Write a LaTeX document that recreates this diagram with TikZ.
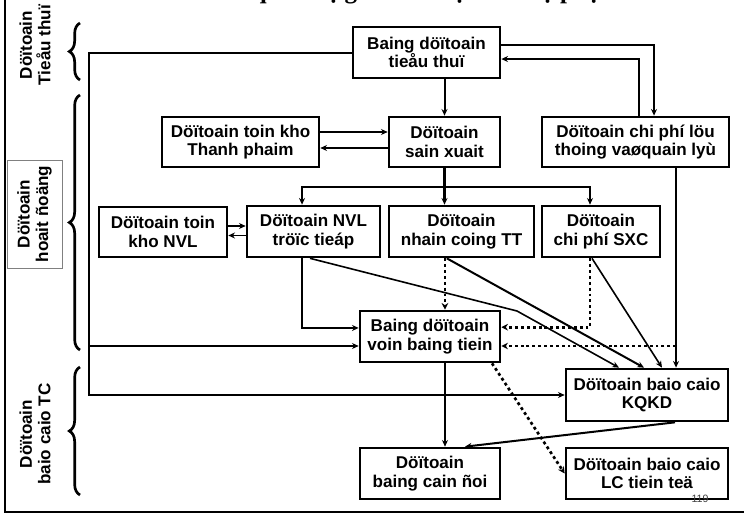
\documentclass[tikz,border=0pt]{standalone}
\usepackage{fontspec}
\setmainfont{Liberation Sans}
\newfontfamily\titlefont{Liberation Serif}
\usetikzlibrary{arrows.meta,decorations.pathreplacing}
\tikzstyle{box} = [draw, line width=2pt, align=center, inner sep=0pt, font=\bfseries\fontsize{12.8}{14}\selectfont]
\tikzstyle{line} = [line width=1.5pt, -{Stealth[length=5pt,width=4.5pt]}]
\tikzstyle{dotline} = [line width=2.2pt, dash pattern=on 2.2pt off 2.2pt, -{Stealth[length=5pt,width=5pt]}]
\tikzstyle{side} = [rotate=90, align=center, font=\bfseries\fontsize{12.8}{14}\selectfont]
\tikzstyle{brc} = [decorate, decoration={brace, amplitude=8pt}, line width=2pt]

\begin{document}
\begin{tikzpicture}[x=0.75pt, y=-0.75pt]
\useasboundingbox (0,0) rectangle (744,521);
\clip (0,0) rectangle (744,521);

\node[anchor=base, font=\titlefont\bfseries\fontsize{18.75}{20}\selectfont] (title) at (377,-2) {Sơ đồ mối quan hệ giữa các dự toán bộ phận};
\draw[line width=1.5pt] (5,0) -- (5,512) -- (744,512);

\node[box, minimum width=110.25pt, minimum height=38.25pt] (tt) at (426.5,52.5) {Baing döïtoain\\tieåu thuï};
\node[box, minimum width=117.75pt, minimum height=37.5pt] (tp) at (240.5,142) {Döïtoain toin kho\\Thanh phaim};
\node[box, minimum width=83.25pt, minimum height=37.5pt] (sx) at (444.5,142) {Döïtoain\\sain xuait};
\node[box, minimum width=140.25pt, minimum height=37.5pt] (cp) at (635.5,142) {Döïtoain chi phí löu\\thoing vaøquain lyù};
\node[box, minimum width=96pt, minimum height=37.5pt] (tk) at (163,232) {Döïtoain toin\\kho NVL};
\node[box, minimum width=99.75pt, minimum height=38.25pt] (nvl) at (313.5,231.5) {Döïtoain NVL\\tröïc tieáp};
\node[box, minimum width=108.75pt, minimum height=38.25pt] (nc) at (461.5,231.5) {Döïtoain\\nhain coing TT};
\node[box, minimum width=88.5pt, minimum height=38.25pt] (sxc) at (601,231.5) {Döïtoain\\chi phí SXC};
\node[box, minimum width=105pt, minimum height=38.25pt] (von) at (430,336.5) {Baing döïtoain\\voin baing tiein};
\node[box, minimum width=121.5pt, minimum height=39pt] (kq) at (647,395) {Döïtoain baio caio\\KQKD};
\node[box, minimum width=105pt, minimum height=38.25pt] (cd) at (430,473.5) {Döïtoain\\baing cain ñoi};
\node[box, minimum width=121.5pt, minimum height=38.25pt] (lc) at (647,473.5) {Döïtoain baio caio\\LC tiein teä};

\node[side] (ltt) at (35,45) {Döïtoain\\Tieåu thuï};
\node[side, draw=gray, line width=0.6pt, minimum width=81pt, minimum height=41.25pt, inner sep=0pt] (lhd) at (34.5,214) {Döïtoain\\hoait ñoäng};
\node[side] (lbc) at (35,434) {Döïtoain\\baio caio TC};

\draw[brc] (80,80) -- (80,23);
\draw[brc] (80,350) -- (80,95);
\draw[brc] (80,495) -- (80,367);

\coordinate (lft) at (89,395);
\coordinate (lv) at (89,346);
\draw[line] (tt.west) -| (lft) -- (kq.west);
\draw[line] (lv) -- (lv -| von.west);

\draw[line] ([yshift=5.6pt]tt.east) -| ([xshift=13.9pt]cp.north);
\draw[line] ([xshift=2.6pt]cp.north) |- ([yshift=-4.9pt]tt.east);
\draw[line] (tt.south -| sx.north) -- (sx.north);

\draw[line] ([yshift=7.5pt]tp.east) -- ([yshift=7.5pt]sx.west);
\draw[line] ([yshift=-4.5pt]sx.west) -- ([yshift=-4.5pt]tp.east);

\coordinate (bus) at (444.5,187);
\draw[line, line width=2pt] (sx.south) -- (sx.south |- nc.north);
\draw[line, line width=2pt] (bus) -| ([xshift=-8.6pt]nvl.north);
\draw[line, line width=2pt] (bus) -| ([xshift=-8.25pt]sxc.north);

\coordinate (tka) at ([yshift=4.5pt]tk.east);
\coordinate (nva) at ([yshift=-3pt]nvl.west);
\draw[line, line width=1pt] (tka) -- (tka -| nvl.west);
\draw[line, line width=1pt] (nva) -- (nva -| tk.east);

\coordinate (bend) at (517,311);
\draw[line] ([xshift=-8.6pt]nvl.south) |- ([yshift=6.4pt]von.west);
\draw[line, line width=1.2pt] ([xshift=-2.6pt]nvl.south) -- (bend) -- ([xshift=-21pt]kq.north);

\coordinate (ncb) at ([xshift=-12.4pt]nc.south);
\draw[dotline] (ncb) -- (ncb |- von.north);
\draw[line] ([xshift=-11pt]nc.south) -- ([xshift=-2.25pt]kq.north);

\coordinate (sxb) at ([xshift=-8.25pt]sxc.south);
\draw[dotline] (sxb) |- ([yshift=7pt]von.east);
\draw[line, line width=1.2pt] ([xshift=-6.75pt]sxc.south) -- ([xshift=11.25pt]kq.north);

\coordinate (cpb) at ([xshift=30.4pt]cp.south);
\draw[line] (cpb) -- (cpb |- kq.north);
\draw[dotline] (cpb |- lv) -- (lv -| von.east);

\draw[line] ([xshift=11.25pt]von.south) -- ([xshift=11.25pt]cd.north);
\draw[line] ([xshift=21pt]kq.south) -- ([xshift=26.25pt]cd.north);
\draw[dotline, line width=2pt] ([xshift=46.5pt]von.south) -- (lc.west);

\node[font=\fontsize{8}{9}\selectfont, text=black!75] (pg) at (700,499) {119};
\end{tikzpicture}
\end{document}
